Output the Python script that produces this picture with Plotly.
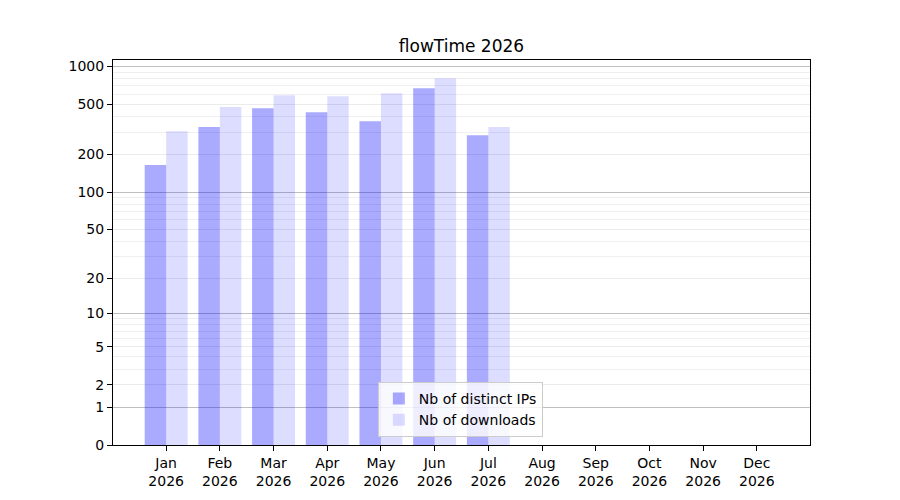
import numpy as np
import plotly.graph_objects as go

# monthly stats
months = ["Jan", "Feb", "Mar", "Apr", "May", "Jun", "Jul", "Aug", "Sep", "Oct", "Nov", "Dec"]
year = "2026"
distinct_ips = [164, 329, 465, 432, 366, 670, 284, 0, 0, 0, 0, 0]
downloads = [305, 474, 590, 579, 611, 804, 329, 0, 0, 0, 0, 0]

# y axis is log10(1 + n)
labeled = [2, 5, 20, 50, 200, 500]
decades = [0, 1, 10, 100, 1000]
minor = [3, 4, 6, 7, 8, 9, 30, 40, 60, 70, 80, 90, 300, 400, 600, 700, 800, 900]


def f(v):
    return np.log10(1 + np.asarray(v, dtype=float))


x = np.arange(len(months))
font = dict(family="DejaVu Sans", size=14, color="black")

fig = go.Figure()
fig.add_trace(go.Bar(x=x, y=f(distinct_ips), offset=-0.4, width=0.4,
                     name="Nb of distinct IPs",
                     marker=dict(color="rgba(0,0,255,0.333)", line_width=0),
                     customdata=distinct_ips, hovertemplate="%{customdata}"))
# second series on the overlaid axis that carries the decade grid
fig.add_trace(go.Bar(x=x, y=f(downloads), offset=0, width=0.4, yaxis="y2",
                     name="Nb of downloads",
                     marker=dict(color="rgba(0,0,255,0.133)", line_width=0),
                     customdata=downloads, hovertemplate="%{customdata}"))

# page body has an 8px margin, so shift the margins to compensate
fig.update_layout(
    width=900, height=500,
    margin=dict(l=105, r=98, t=52, b=63),
    paper_bgcolor="white", plot_bgcolor="white",
    font=font,
    barmode="overlay",
    title=dict(text="flowTime 2026", x=0.5, xref="paper", y=1 - 38 / 500,
               yanchor="middle", font=dict(family="DejaVu Sans", size=17)),
    legend=dict(x=0.38, y=0.021, xanchor="left", yanchor="bottom",
                bgcolor="rgba(255,255,255,0.8)", bordercolor="#cccccc",
                borderwidth=1, font=font, itemwidth=30),
    xaxis=dict(range=[-0.99, 11.99], tickmode="array", tickvals=x,
               ticktext=[m + "<br>" + year for m in months],
               ticks="outside", ticklen=5, tickcolor="black",
               showline=True, linecolor="black", linewidth=1, mirror=True,
               showgrid=False, zeroline=False),
    yaxis=dict(range=[0, 3.05], tickmode="array", tickvals=f(labeled),
               ticktext=[str(v) for v in labeled],
               ticks="outside", ticklen=5, tickcolor="black",
               showline=True, linecolor="black", linewidth=1, mirror=True,
               showgrid=True, gridcolor="#ebebeb", gridwidth=1, zeroline=False,
               minor=dict(tickmode="array", tickvals=f(minor), showgrid=True,
                          gridcolor="#efefef", gridwidth=1, ticks="")),
    yaxis2=dict(range=[0, 3.05], overlaying="y", side="left", anchor="x",
                tickmode="array", tickvals=f(decades),
                ticktext=[str(v) for v in decades],
                ticks="outside", ticklen=5, tickcolor="black",
                showgrid=True, gridcolor="#bfbfbf", gridwidth=1, zeroline=False,
                showline=False),
)

fig.write_html("out.html")
